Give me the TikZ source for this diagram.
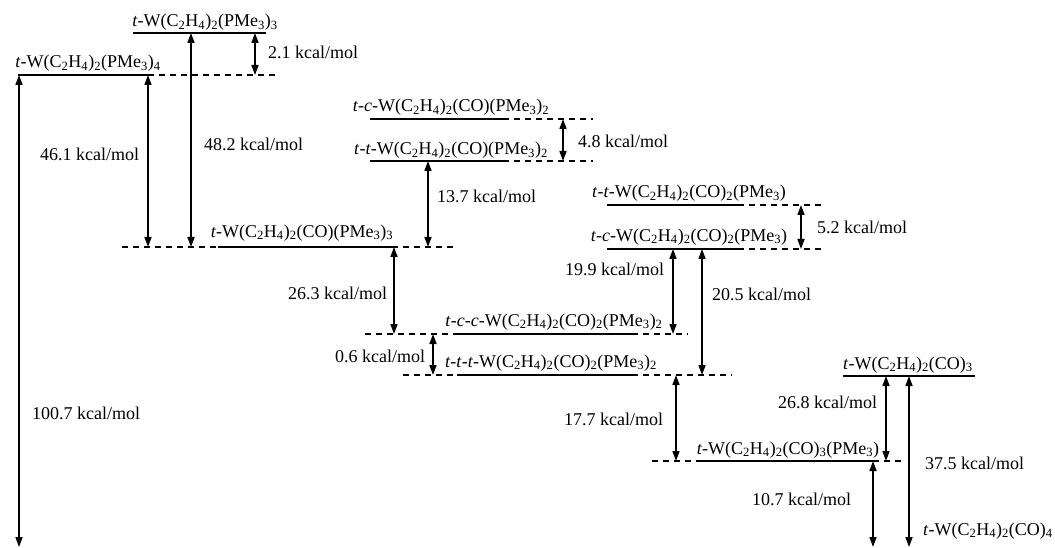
\documentclass[tikz,border=0pt]{standalone}
\usepackage{fontspec}
\setmainfont{Liberation Serif}
\usetikzlibrary{arrows.meta}
\newcommand{\dn}[1]{\textsubscript{#1}}

\begin{document}
\begin{tikzpicture}[
  x=1pt, y=-1pt,
  lvl/.style={line width=1.6pt},
  ext/.style={line width=1.2pt, dash pattern=on 6pt off 5pt},
  dbl/.style={{Triangle[length=10pt,width=7pt]}-{Triangle[length=10pt,width=7pt]}, line width=1.6pt},
  spec/.style={font=\fontsize{18}{20}\selectfont, inner sep=0pt, anchor=base},
  gap/.style={font=\fontsize{18}{20}\selectfont, inner sep=0pt, anchor=base west}
]
  \useasboundingbox (0,0) rectangle (1055,548);

  % energy levels
  \coordinate (L3) at (0,33);
  \coordinate (L4) at (0,75);
  \coordinate (Ltc) at (0,119);
  \coordinate (Ltt) at (0,161);
  \coordinate (Mtt) at (0,205);
  \coordinate (LCO) at (0,247);
  \coordinate (Mtc) at (0,249);
  \coordinate (Ntcc) at (0,334);
  \coordinate (Nttt) at (0,375);
  \coordinate (Q) at (0,376);
  \coordinate (P) at (0,461);
  \coordinate (R) at (0,547);

  \draw[lvl] (133,33) -- (266,33);
  \draw[lvl] (18,75) -- (148,75);
  \draw[ext] (148,75) -- (277,75);
  \draw[ext] (122,247) -- (218,247);
  \draw[lvl] (218,247) -- (392,247);
  \draw[ext] (392,247) -- (455,247);
  \draw[lvl] (370,119) -- (503,119);
  \draw[ext] (503,119) -- (593,119);
  \draw[lvl] (370,161) -- (503,161);
  \draw[ext] (503,161) -- (593,161);
  \draw[lvl] (607,205) -- (738,205);
  \draw[ext] (738,205) -- (823,205);
  \draw[lvl] (607,249) -- (738,249);
  \draw[ext] (738,249) -- (823,249);
  \draw[ext] (365,334) -- (457,334);
  \draw[lvl] (457,334) -- (632,334);
  \draw[ext] (632,334) -- (688,334);
  \draw[ext] (403,375) -- (457,375);
  \draw[lvl] (457,375) -- (632,375);
  \draw[ext] (632,375) -- (732,375);
  \draw[ext] (652,461) -- (700,461);
  \draw[lvl] (700,461) -- (873,461);
  \draw[ext] (873,461) -- (902,461);
  \draw[lvl] (843,376) -- (975,376);

  % species
  \node[spec] (s3) at (205,27) {\textit{t}-W(C\dn{2}H\dn{4})\dn{2}(PMe\dn{3})\dn{3}};
  \node[spec] (s4) at (88,68) {\textit{t}-W(C\dn{2}H\dn{4})\dn{2}(PMe\dn{3})\dn{4}};
  \node[spec] (sco) at (302,237) {\textit{t}-W(C\dn{2}H\dn{4})\dn{2}(CO)(PMe\dn{3})\dn{3}};
  \node[spec] (stc) at (451,112) {\textit{t}-\textit{c}-W(C\dn{2}H\dn{4})\dn{2}(CO)(PMe\dn{3})\dn{2}};
  \node[spec] (stt) at (451,155) {\textit{t}-\textit{t}-W(C\dn{2}H\dn{4})\dn{2}(CO)(PMe\dn{3})\dn{2}};
  \node[spec] (mtt) at (689,198) {\textit{t}-\textit{t}-W(C\dn{2}H\dn{4})\dn{2}(CO)\dn{2}(PMe\dn{3})};
  \node[spec] (mtc) at (689,241) {\textit{t}-\textit{c}-W(C\dn{2}H\dn{4})\dn{2}(CO)\dn{2}(PMe\dn{3})};
  \node[spec] (ntcc) at (554,326) {\textit{t}-\textit{c}-\textit{c}-W(C\dn{2}H\dn{4})\dn{2}(CO)\dn{2}(PMe\dn{3})\dn{2}};
  \node[spec] (nttt) at (551,367) {\textit{t}-\textit{t}-\textit{t}-W(C\dn{2}H\dn{4})\dn{2}(CO)\dn{2}(PMe\dn{3})\dn{2}};
  \node[spec] (sq) at (908,369) {\textit{t}-W(C\dn{2}H\dn{4})\dn{2}(CO)\dn{3}};
  \node[spec] (sp) at (788,454) {\textit{t}-W(C\dn{2}H\dn{4})\dn{2}(CO)\dn{3}(PMe\dn{3})};
  \node[spec] (sr) at (988,535) {\textit{t}-W(C\dn{2}H\dn{4})\dn{2}(CO)\dn{4}};

  % energy gaps
  \draw[dbl] (19,0 |- L4) -- (19,0 |- R);
  \draw[dbl] (255,0 |- L3) -- (255,0 |- L4);
  \draw[dbl] (148,0 |- L4) -- (148,0 |- LCO);
  \draw[dbl] (191,0 |- L3) -- (191,0 |- LCO);
  \draw[dbl] (428,0 |- Ltt) -- (428,0 |- LCO);
  \draw[dbl] (563,0 |- Ltc) -- (563,0 |- Ltt);
  \draw[dbl] (394,0 |- LCO) -- (394,0 |- Ntcc);
  \draw[dbl] (433,0 |- Ntcc) -- (433,0 |- Nttt);
  \draw[dbl] (801,0 |- Mtt) -- (801,0 |- Mtc);
  \draw[dbl] (673,0 |- Mtc) -- (673,0 |- Ntcc);
  \draw[dbl] (702,0 |- Mtc) -- (702,0 |- Nttt);
  \draw[dbl] (676,0 |- Nttt) -- (676,0 |- P);
  \draw[dbl] (886,0 |- Q) -- (886,0 |- P);
  \draw[dbl] (909,0 |- Q) -- (909,0 |- R);
  \draw[dbl] (873,0 |- P) -- (873,0 |- R);

  \node[gap] (g100) at (32,419) {100.7 kcal/mol};
  \node[gap] (g21) at (268,59) {2.1 kcal/mol};
  \node[gap] (g461) at (40,161) {46.1 kcal/mol};
  \node[gap] (g482) at (204,151) {48.2 kcal/mol};
  \node[gap] (g48) at (578,148) {4.8 kcal/mol};
  \node[gap] (g137) at (437,203) {13.7 kcal/mol};
  \node[gap] (g52) at (817,234) {5.2 kcal/mol};
  \node[gap] (g199) at (565,276) {19.9 kcal/mol};
  \node[gap] (g263) at (288,299) {26.3 kcal/mol};
  \node[gap] (g06) at (335,362) {0.6 kcal/mol};
  \node[gap] (g205) at (712,300) {20.5 kcal/mol};
  \node[gap] (g177) at (564,425) {17.7 kcal/mol};
  \node[gap] (g268) at (778,408) {26.8 kcal/mol};
  \node[gap] (g375) at (925,469) {37.5 kcal/mol};
  \node[gap] (g107) at (752,505) {10.7 kcal/mol};
\end{tikzpicture}
\end{document}
